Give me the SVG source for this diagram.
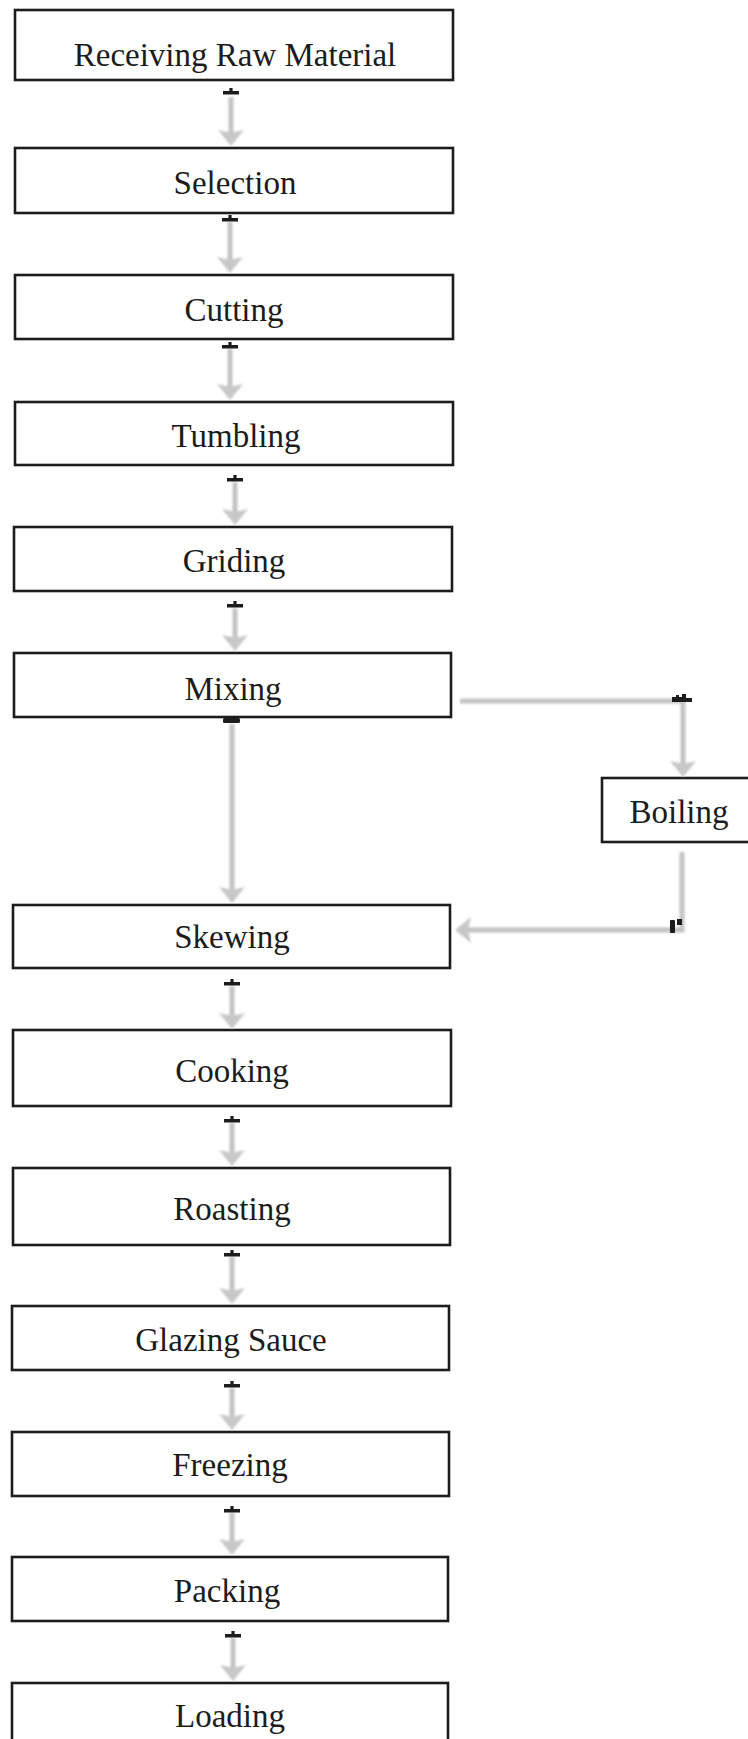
<svg xmlns="http://www.w3.org/2000/svg" xmlns:xlink="http://www.w3.org/1999/xlink" width="748" height="1739" viewBox="0 0 748 1739">
  <style>
    .box { fill: #ffffff; stroke: #1c1c1c; stroke-width: 2.6; }
    .lbl { font-family: "Liberation Serif", "Times New Roman", serif; font-size: 33px; fill: #1c1c1c; text-anchor: middle; }
    .shaft { stroke: #c2c2c2; stroke-width: 5; fill: none; }
    .head { fill: #c8c8c8; }
    .mark { fill: #1c1c1c; }
  </style>
  <defs>
    <filter id="soft" x="-20%" y="-20%" width="140%" height="140%">
      <feGaussianBlur stdDeviation="0.9"/>
    </filter>
    <!-- start mark of a connector: short stub over a flat bar -->
    <g id="tee">
      <rect class="mark" x="-8" y="3" width="16" height="3.5"/>
      <rect class="mark" x="-1.6" y="0" width="3.2" height="3.5"/>
    </g>
    <!-- downward arrowhead, tip at the origin -->
    <path id="headDown" class="head" d="M-13,-16 L0,0 L13,-16 L4,-14 L-4,-14 Z"/>
    <!-- leftward arrowhead, tip at the origin -->
    <path id="headLeft" class="head" d="M16,-13 L0,0 L16,13 L14,4 L14,-4 Z"/>
  </defs>

  <rect width="748" height="1739" fill="#ffffff"/>

  <!-- process steps -->
  <g id="node-receiving">
    <rect class="box" x="15" y="10" width="438" height="70"/>
    <text class="lbl" x="235" y="66">Receiving Raw Material</text>
  </g>
  <g id="node-selection">
    <rect class="box" x="15" y="148" width="438" height="65"/>
    <text class="lbl" x="235" y="194">Selection</text>
  </g>
  <g id="node-cutting">
    <rect class="box" x="15" y="275" width="438" height="64"/>
    <text class="lbl" x="234" y="321">Cutting</text>
  </g>
  <g id="node-tumbling">
    <rect class="box" x="15" y="402" width="438" height="63"/>
    <text class="lbl" x="236" y="447">Tumbling</text>
  </g>
  <g id="node-griding">
    <rect class="box" x="14" y="527" width="438" height="64"/>
    <text class="lbl" x="234" y="572">Griding</text>
  </g>
  <g id="node-mixing">
    <rect class="box" x="14" y="653" width="437" height="64"/>
    <text class="lbl" x="233" y="700">Mixing</text>
  </g>
  <g id="node-boiling">
    <rect class="box" x="602" y="778" width="150" height="64"/>
    <text class="lbl" x="679" y="823">Boiling</text>
  </g>
  <g id="node-skewing">
    <rect class="box" x="13" y="905" width="437" height="63"/>
    <text class="lbl" x="232" y="948">Skewing</text>
  </g>
  <g id="node-cooking">
    <rect class="box" x="13" y="1030" width="438" height="76"/>
    <text class="lbl" x="232" y="1082">Cooking</text>
  </g>
  <g id="node-roasting">
    <rect class="box" x="13" y="1168" width="437" height="77"/>
    <text class="lbl" x="232" y="1220">Roasting</text>
  </g>
  <g id="node-glazing">
    <rect class="box" x="12" y="1306" width="437" height="64"/>
    <text class="lbl" x="231" y="1351">Glazing Sauce</text>
  </g>
  <g id="node-freezing">
    <rect class="box" x="12" y="1432" width="437" height="64"/>
    <text class="lbl" x="230" y="1476">Freezing</text>
  </g>
  <g id="node-packing">
    <rect class="box" x="12" y="1557" width="436" height="64"/>
    <text class="lbl" x="227" y="1602">Packing</text>
  </g>
  <g id="node-loading">
    <rect class="box" x="12" y="1683" width="436" height="70"/>
    <text class="lbl" x="230" y="1727">Loading</text>
  </g>

  <!-- connectors -->
  <g id="connectors">
    <g filter="url(#soft)">
      <line class="shaft" x1="231" y1="97" x2="231" y2="134"/>
      <use xlink:href="#headDown" x="231" y="146"/>
      <line class="shaft" x1="230" y1="222" x2="230" y2="261"/>
      <use xlink:href="#headDown" x="230" y="273"/>
      <line class="shaft" x1="230" y1="349" x2="230" y2="388"/>
      <use xlink:href="#headDown" x="230" y="400"/>
      <line class="shaft" x1="235" y1="482" x2="235" y2="513"/>
      <use xlink:href="#headDown" x="235" y="525"/>
      <line class="shaft" x1="235" y1="608" x2="235" y2="639"/>
      <use xlink:href="#headDown" x="235" y="651"/>
      <line class="shaft" x1="232" y1="724" x2="232" y2="891"/>
      <use xlink:href="#headDown" x="232" y="903"/>
      <line class="shaft" x1="232" y1="986" x2="232" y2="1017"/>
      <use xlink:href="#headDown" x="232" y="1029"/>
      <line class="shaft" x1="232" y1="1123" x2="232" y2="1154"/>
      <use xlink:href="#headDown" x="232" y="1166"/>
      <line class="shaft" x1="232" y1="1257" x2="232" y2="1292"/>
      <use xlink:href="#headDown" x="232" y="1304"/>
      <line class="shaft" x1="232" y1="1388" x2="232" y2="1418"/>
      <use xlink:href="#headDown" x="232" y="1430"/>
      <line class="shaft" x1="232" y1="1513" x2="232" y2="1543"/>
      <use xlink:href="#headDown" x="232" y="1555"/>
      <line class="shaft" x1="233" y1="1638" x2="233" y2="1669"/>
      <use xlink:href="#headDown" x="233" y="1681"/>

      <!-- Mixing to Boiling -->
      <polyline class="shaft" points="460,701 683,701 683,765" stroke-width="4"/>
      <use xlink:href="#headDown" x="683" y="777"/>
      <!-- Boiling to Skewing -->
      <polyline class="shaft" points="682,852 682,930 468,930" stroke-width="4"/>
      <use xlink:href="#headLeft" x="455" y="930"/>
    </g>

    <use xlink:href="#tee" x="231" y="88"/>
    <use xlink:href="#tee" x="230" y="215"/>
    <use xlink:href="#tee" x="230" y="342"/>
    <use xlink:href="#tee" x="235" y="475"/>
    <use xlink:href="#tee" x="235" y="601"/>
    <rect class="mark" x="223" y="718" width="17" height="5" rx="1.5"/>
    <use xlink:href="#tee" x="232" y="979"/>
    <use xlink:href="#tee" x="232" y="1116"/>
    <use xlink:href="#tee" x="232" y="1250"/>
    <use xlink:href="#tee" x="232" y="1381"/>
    <use xlink:href="#tee" x="232" y="1506"/>
    <use xlink:href="#tee" x="233" y="1631"/>

    <!-- corner marks on the side loop -->
    <path class="mark" d="M672,697 L676,697 L676,695 L679,695 L679,697 L682,697 L682,694 L686,694 L686,698 L692,698 L692,702 L672,702 Z"/>
    <rect class="mark" x="670" y="920" width="5" height="13" rx="1"/>
    <rect class="mark" x="677" y="919" width="5" height="6"/>
  </g>
</svg>
